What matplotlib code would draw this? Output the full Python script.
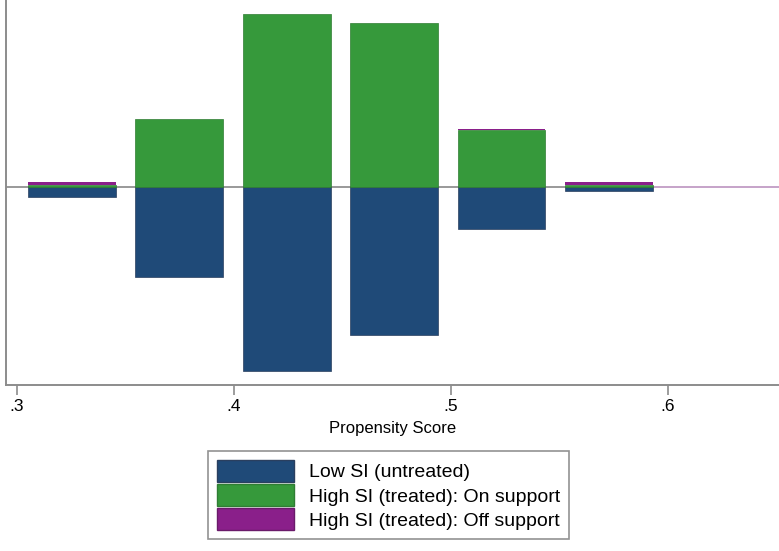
import numpy as np
import matplotlib.pyplot as plt
from matplotlib.patches import Patch

plt.rcParams['font.family'] = ['Liberation Sans', 'DejaVu Sans']

# bin centres of the propensity score histogram
bin_centers = [0.3253, 0.3748, 0.4243, 0.4738, 0.5233, 0.5728]
bar_width = 0.0405

# heights (arbitrary density units)
untreated = [1.0, 9.0, 18.4, 14.8, 4.2, 0.4]
treated_on = [0.25, 6.8, 17.3, 16.4, 5.7, 0.2]
treated_off = [0.3, 0.0, 0.0, 0.0, 0.1, 0.3]
off_tail = [0.5926, 0.652]   # off-support stretch to the right (zero height)

tick_vals = [0.3, 0.4, 0.5, 0.6]
tick_labels = ['.3', '.4', '.5', '.6']

c_blue = '#1f4a78'
c_green = '#36993b'
c_purple = '#8a1f8a'
c_axis = '#8c8c8c'

fig = plt.figure(figsize=(7.79, 5.51), dpi=100)
ax = fig.add_axes([6 / 779, 1 - 385 / 551, 1 - 6 / 779, 385 / 551])

x = np.array(bin_centers)
ax.bar(x, -np.array(untreated), width=bar_width, color=c_blue,
       edgecolor='#2a3f5f', linewidth=0.5, zorder=2)
ax.bar(x, treated_on, width=bar_width, color=c_green,
       edgecolor='#2f7d33', linewidth=0.5, zorder=2)
ax.bar(x, treated_off, width=bar_width, bottom=treated_on, color=c_purple,
       linewidth=0, zorder=2)
ax.axhline(0, color='#999999', linewidth=1.4, zorder=1)
ax.plot(off_tail, [0, 0], color='#c9a6cc', linewidth=1.4, zorder=1.5)

ax.set_xlim(0.2949, 0.6512)
ax.set_ylim(-19.8, 18.7)
ax.set_yticks([])
ax.set_xticks(tick_vals)
ax.set_xticklabels(tick_labels, fontsize=12.5)
ax.tick_params(axis='x', length=7, width=1.2, color=c_axis, pad=3)
ax.set_xlabel('Propensity Score', fontsize=12, labelpad=5)

for side in ['top', 'right']:
    ax.spines[side].set_visible(False)
for side in ['left', 'bottom']:
    ax.spines[side].set_color(c_axis)
    ax.spines[side].set_linewidth(1.4)

handles = [Patch(facecolor=c_blue, edgecolor='#2a3f5f', label='Low SI (untreated)'),
           Patch(facecolor=c_green, edgecolor='#2f7d33', label='High SI (treated): On support'),
           Patch(facecolor=c_purple, edgecolor='#6a1a6a', label='High SI (treated): Off support')]
leg = fig.legend(handles=handles, loc='center', bbox_to_anchor=(0.4987, 0.1016),
                 bbox_transform=fig.transFigure, fontsize=14, frameon=True,
                 fancybox=False, edgecolor='#777777', handlelength=4.0,
                 handleheight=1.35, labelspacing=0.12, handletextpad=0.75,
                 borderpad=0.45, borderaxespad=0)
leg.get_frame().set_linewidth(1.2)

fig.savefig('out.png', dpi=100)
